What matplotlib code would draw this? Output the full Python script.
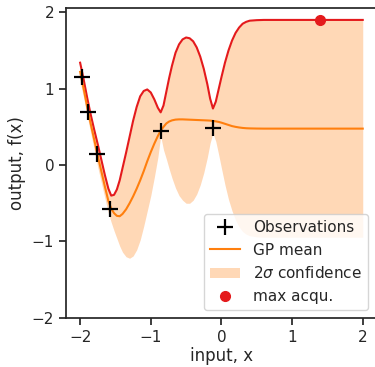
import matplotlib
matplotlib.use('Agg')
import matplotlib.pyplot as plt

# observations
obs_x = [-1.98, -1.89, -1.76, -1.58, -0.86, -0.12]
obs_y = [1.15, 0.70, 0.15, -0.58, 0.44, 0.48]

# GP posterior
xs = [-2.0, -1.95, -1.9, -1.85, -1.8, -1.75, -1.7, -1.65, -1.6, -1.56,
      -1.52, -1.48, -1.44, -1.4, -1.35, -1.3, -1.25, -1.2, -1.15, -1.1,
      -1.05, -1.0, -0.95, -0.9, -0.86, -0.82, -0.78, -0.74, -0.7, -0.65,
      -0.6, -0.55, -0.5, -0.45, -0.4, -0.35, -0.3, -0.25, -0.2, -0.16,
      -0.12, -0.08, -0.04, 0.0, 0.05, 0.1, 0.15, 0.2, 0.25, 0.3,
      0.35, 0.4, 0.5, 0.6, 0.8, 1.0, 1.4, 2.0]
upper = [1.34, 1.12, 0.88, 0.66, 0.46, 0.27, 0.07, -0.13, -0.31, -0.40,
         -0.39, -0.32, -0.20, -0.04, 0.16, 0.37, 0.58, 0.76, 0.90, 0.97,
         0.99, 0.95, 0.86, 0.75, 0.69, 0.78, 0.96, 1.14, 1.30, 1.47,
         1.58, 1.645, 1.67, 1.66, 1.62, 1.54, 1.42, 1.26, 1.06, 0.87,
         0.74, 0.83, 0.99, 1.15, 1.34, 1.50, 1.63, 1.73, 1.80, 1.85,
         1.875, 1.89, 1.897, 1.9, 1.9, 1.9, 1.9, 1.9]
mean = [1.22, 1.00, 0.76, 0.54, 0.33, 0.12, -0.08, -0.28, -0.47, -0.57,
        -0.63, -0.665, -0.67, -0.64, -0.58, -0.50, -0.41, -0.31, -0.20, -0.08,
        0.05, 0.17, 0.28, 0.38, 0.45, 0.50, 0.545, 0.57, 0.585, 0.595,
        0.598, 0.598, 0.596, 0.594, 0.592, 0.59, 0.588, 0.586, 0.584, 0.582,
        0.578, 0.572, 0.565, 0.555, 0.54, 0.525, 0.51, 0.50, 0.492, 0.486,
        0.482, 0.48, 0.478, 0.477, 0.477, 0.477, 0.477, 0.477]
lower = [1.09, 0.88, 0.64, 0.42, 0.20, -0.03, -0.23, -0.43, -0.63, -0.75,
         -0.86, -0.96, -1.06, -1.14, -1.20, -1.22, -1.19, -1.11, -0.98, -0.80,
         -0.60, -0.40, -0.16, 0.10, 0.38, 0.20, 0.08, -0.05, -0.17, -0.30,
         -0.40, -0.46, -0.50, -0.50, -0.46, -0.38, -0.26, -0.10, 0.10, 0.29,
         0.42, 0.31, 0.14, -0.04, -0.26, -0.45, -0.60, -0.72, -0.81, -0.87,
         -0.905, -0.925, -0.94, -0.945, -0.945, -0.945, -0.945, -0.945]

# maximum of the acquisition function
acq_x = [1.4]
acq_y = [1.9]

dark = '#262626'
plt.rcParams['font.family'] = 'DejaVu Sans'
plt.rcParams['axes.edgecolor'] = dark
plt.rcParams['axes.linewidth'] = 1.25
plt.rcParams['xtick.color'] = dark
plt.rcParams['ytick.color'] = dark
plt.rcParams['xtick.major.width'] = 1.25
plt.rcParams['ytick.major.width'] = 1.25
plt.rcParams['xtick.major.size'] = 5
plt.rcParams['ytick.major.size'] = 5

fig = plt.figure(figsize=(3.75, 3.67), dpi=100)
ax = fig.add_axes([0.176, 0.134, 0.829, 0.845])

ax.fill_between(xs, lower, upper, color='C1', alpha=0.3, linewidth=0,
                label='2$\\sigma$ confidence')
ax.plot(xs, upper, color='#e41a1c', lw=1.5)
ax.plot(xs, mean, color='C1', lw=1.5, label='GP mean')
ax.plot(obs_x, obs_y, 'k+', ms=11, mew=1.6, label='Observations')
ax.plot(acq_x, acq_y, 'o', color='#e41a1c', ms=7, label='max acqu.')

ax.set_xlim(-2.2, 2.2)
ax.set_ylim(-2, 2.06)
ax.set_xticks([-2, -1, 0, 1, 2])
ax.set_yticks([-2, -1, 0, 1, 2])
ax.tick_params(labelsize=11, labelcolor=dark)
ax.set_xlabel('input, x', fontsize=12, color=dark, labelpad=2)
ax.set_ylabel('output, f(x)', fontsize=12, color=dark, labelpad=4)

h, l = ax.get_legend_handles_labels()
order = [2, 1, 0, 3]
leg = ax.legend([h[i] for i in order], [l[i] for i in order], loc='lower right',
                fontsize=11, bbox_to_anchor=(0.995, 0.0))
for t in leg.get_texts():
    t.set_color(dark)

fig.savefig('out.png', dpi=100)
